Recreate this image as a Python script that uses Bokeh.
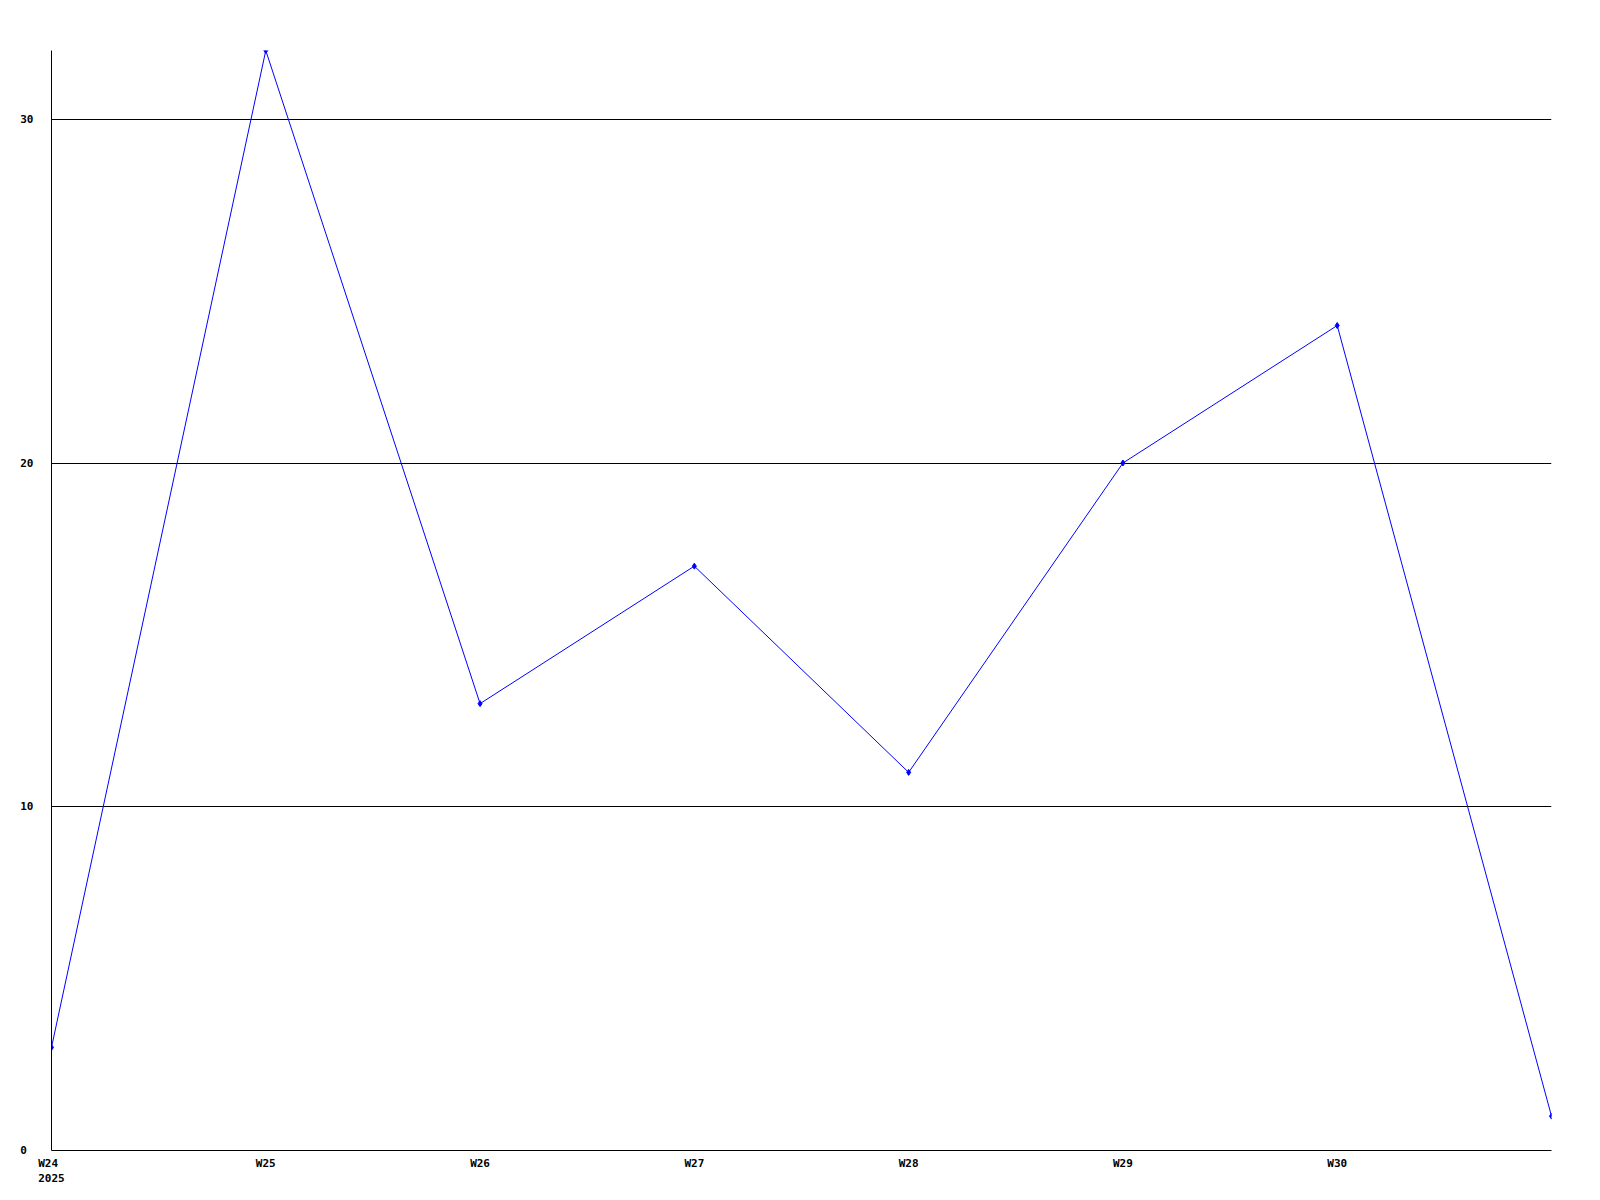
from bokeh.plotting import figure
from bokeh.models import Range1d, FixedTicker
from bokeh.embed import file_html
from bokeh.resources import INLINE

weeks = ["W24", "W25", "W26", "W27", "W28", "W29", "W30", "W31"]
values = [3, 32, 13, 17, 11, 20, 24, 1]
year_label = "2025"
y_ticks = [0, 10, 20, 30]

xs = list(range(len(weeks)))

p = figure(width=1592, height=1192, output_backend="svg", toolbar_location=None,
           x_range=Range1d(0, len(weeks) - 1), y_range=Range1d(0, 32),
           min_border_left=51, min_border_right=41, min_border_top=50, min_border_bottom=42)
p.outline_line_color = None
p.background_fill_color = "white"
p.border_fill_color = "white"

font = "DejaVu Sans Mono"

labels = {i: weeks[i] for i in xs[:-1]}
labels[0] = weeks[0] + " \n" + year_label
p.xaxis.ticker = FixedTicker(ticks=xs[:-1])
p.xaxis.major_label_overrides = labels
p.yaxis.ticker = FixedTicker(ticks=y_ticks)
p.yaxis.major_label_overrides = {t: (str(t) + " " if t < 10 else str(t)) for t in y_ticks}
for ax in (p.xaxis, p.yaxis):
    ax.major_tick_out = 0
    ax.major_tick_in = 0
    ax.minor_tick_out = 0
    ax.minor_tick_in = 0
    ax.axis_line_color = "black"
    ax.axis_line_width = 1
    ax.major_label_text_font = font
    ax.major_label_text_font_style = "bold"
    ax.major_label_text_font_size = "11px"
    ax.major_label_text_color = "black"
p.xaxis.major_label_standoff = 6
p.yaxis.major_label_standoff = 18

p.xgrid.grid_line_color = None
p.ygrid.ticker = FixedTicker(ticks=y_ticks)
p.ygrid.grid_line_color = "black"
p.ygrid.grid_line_width = 1

p.line(xs, values, line_color="#0000ff", line_width=1)
p.scatter(xs, values, marker="diamond", size=6, fill_color="#0000ff", line_color="#0000ff")

open("out.html", "w").write(file_html(p, INLINE))
